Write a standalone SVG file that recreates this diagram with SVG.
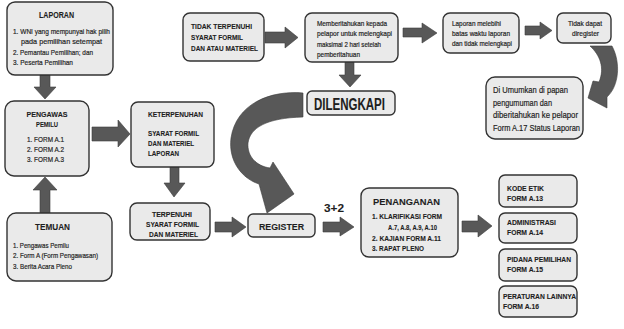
<svg xmlns="http://www.w3.org/2000/svg" width="624" height="329" viewBox="0 0 624 329">
<style>
.bx{fill:#eaeaea;stroke:#333;stroke-width:1.4}
.ar{fill:#585858;stroke:#3c3c3c;stroke-width:0.6}
text{font-family:"Liberation Sans Narrow","Liberation Sans",Arial,sans-serif;fill:#1e1e1e;stroke:#1e1e1e;stroke-width:0.2}
.b{font-weight:bold;stroke-width:0.1}
</style>
<rect width="624" height="329" fill="#fff"/>
<g id="connectors">
<polygon class="ar" points="40,75 50,75 50,87 56,87 45,99 34,87 40,87"/>
<polygon class="ar" points="45,177 57,190 50,190 50,213 40,213 40,190 33,190"/>
<polygon class="ar" points="92,127 118,127 118,120 130,134 118,147 118,141 92,141"/>
<polygon class="ar" points="170,167 179,167 179,183 185,183 174,197 164,183 170,183"/>
<polygon class="ar" points="215,222 232,222 232,217 246,227 232,237 232,232 215,232"/>
<polygon class="ar" points="323,222 340,222 340,217 354,227 340,236 340,232 323,232"/>
<polygon class="ar" points="462,221 478,221 478,215 492,226 478,237 478,232 462,232"/>
<polygon class="ar" points="265,32 285,32 285,27 298,37.5 285,48 285,43 265,43"/>
<polygon class="ar" points="345,62 354,62 354,75 361,75 350,87 339,75 345,75"/>
<polygon class="ar" points="403,28 422,28 422,23 437,33 422,43 422,37 403,37"/>
<polygon class="ar" points="525,26 540,26 540,22 552,30.5 540,39 540,35 525,35"/>
<path class="ar" d="M303,93 C270,90 236,104 231,138 C228,162 243,179 259,184 L267,213 L294,194 L273,162 L270,168 C256,166 247,156 248,143 C250,128 266,118 303,117 Z"/>
<path class="ar" d="M590,46 C600,55 605,68 599,82 L593,81 L588,98 L607,108 L607,97 C619,86 621,63 612,46 Z"/>
</g>
<g id="laporan">
<rect class="bx" x="7" y="2" width="106" height="73" rx="8"/>
<text class="b" x="39" y="17.5" font-size="8.5" textLength="35" lengthAdjust="spacingAndGlyphs">LAPORAN</text>
<text x="13" y="34" font-size="8" textLength="97" lengthAdjust="spacingAndGlyphs">1. WNI yang mempunyai hak pilih</text>
<text x="21" y="44" font-size="8" textLength="81" lengthAdjust="spacingAndGlyphs">pada pemilihan setempat</text>
<text x="13" y="55" font-size="8" textLength="80" lengthAdjust="spacingAndGlyphs">2. Pemantau Pemilihan; dan</text>
<text x="13" y="65" font-size="8" textLength="60" lengthAdjust="spacingAndGlyphs">3. Peserta Pemilihan</text>
</g>
<g id="pengawas">
<rect class="bx" x="5" y="101" width="84" height="75" rx="9"/>
<text class="b" x="26.5" y="117" font-size="8" textLength="41" lengthAdjust="spacingAndGlyphs">PENGAWAS</text>
<text class="b" x="36" y="127" font-size="8" textLength="22" lengthAdjust="spacingAndGlyphs">PEMILU</text>
<text x="27" y="142" font-size="8" textLength="37" lengthAdjust="spacingAndGlyphs">1. FORM A.1</text>
<text x="27" y="152" font-size="8" textLength="37" lengthAdjust="spacingAndGlyphs">2. FORM A.2</text>
<text x="27" y="162" font-size="8" textLength="37" lengthAdjust="spacingAndGlyphs">3. FORM A.3</text>
</g>
<g id="temuan">
<rect class="bx" x="7" y="213" width="105" height="68" rx="9"/>
<text class="b" x="35" y="230" font-size="9.5" textLength="35" lengthAdjust="spacingAndGlyphs">TEMUAN</text>
<text x="13" y="248" font-size="8" textLength="56" lengthAdjust="spacingAndGlyphs">1. Pengawas Pemilu</text>
<text x="13" y="258" font-size="8" textLength="85" lengthAdjust="spacingAndGlyphs">2. Form A (Form Pengawasan)</text>
<text x="13" y="269" font-size="8" textLength="59" lengthAdjust="spacingAndGlyphs">3. Berita Acara Pleno</text>
</g>
<g id="keterpenuhan">
<rect class="bx" x="131" y="102" width="83" height="65" rx="7"/>
<text class="b" x="148" y="117" font-size="7" textLength="55" lengthAdjust="spacingAndGlyphs">KETERPENUHAN</text>
<text class="b" x="148" y="136" font-size="7" textLength="51" lengthAdjust="spacingAndGlyphs">SYARAT FORMIL</text>
<text class="b" x="148" y="146" font-size="7" textLength="46" lengthAdjust="spacingAndGlyphs">DAN MATERIEL</text>
<text class="b" x="148" y="155.5" font-size="7" textLength="31" lengthAdjust="spacingAndGlyphs">LAPORAN</text>
</g>
<g id="terpenuhi">
<rect class="bx" x="130" y="203" width="80" height="37" rx="7"/>
<text class="b" x="152" y="216.5" font-size="7" textLength="40" lengthAdjust="spacingAndGlyphs">TERPENUHI</text>
<text class="b" x="146" y="226.5" font-size="7" textLength="53" lengthAdjust="spacingAndGlyphs">SYARAT FORMIL</text>
<text class="b" x="149" y="236.5" font-size="7" textLength="49" lengthAdjust="spacingAndGlyphs">DAN MATERIEL</text>
</g>
<g id="register">
<rect class="bx" x="248" y="214" width="67" height="23" rx="5"/>
<text class="b" x="259" y="230" font-size="9.5" textLength="45" lengthAdjust="spacingAndGlyphs">REGISTER</text>
</g>
<g id="label-3plus2">
<text class="b" x="324" y="212" font-size="10.5" textLength="20" lengthAdjust="spacingAndGlyphs">3+2</text>
</g>
<g id="penanganan">
<rect class="bx" x="361" y="188" width="97" height="69" rx="8"/>
<text class="b" x="373" y="205" font-size="9.5" textLength="67" lengthAdjust="spacingAndGlyphs">PENANGANAN</text>
<text class="b" x="372" y="219" font-size="7.5" textLength="70" lengthAdjust="spacingAndGlyphs">1. KLARIFIKASI FORM</text>
<text class="b" x="388" y="230" font-size="7.5" textLength="49" lengthAdjust="spacingAndGlyphs">A.7, A.8, A.9, A.10</text>
<text class="b" x="372" y="241" font-size="7.5" textLength="69" lengthAdjust="spacingAndGlyphs">2. KAJIAN FORM A.11</text>
<text class="b" x="372" y="251" font-size="7.5" textLength="52" lengthAdjust="spacingAndGlyphs">3. RAPAT PLENO</text>
</g>
<g id="kode-etik">
<rect class="bx" x="499" y="175" width="78" height="32" rx="6"/>
<text class="b" x="507" y="191" font-size="7" textLength="37" lengthAdjust="spacingAndGlyphs">KODE ETIK</text>
<text class="b" x="507" y="201" font-size="7" textLength="36" lengthAdjust="spacingAndGlyphs">FORM A.13</text>
</g>
<g id="administrasi">
<rect class="bx" x="499" y="213" width="78" height="30" rx="6"/>
<text class="b" x="507" y="225" font-size="7" textLength="49" lengthAdjust="spacingAndGlyphs">ADMINISTRASI</text>
<text class="b" x="507" y="235" font-size="7" textLength="36" lengthAdjust="spacingAndGlyphs">FORM A.14</text>
</g>
<g id="pidana">
<rect class="bx" x="499" y="249" width="78" height="32" rx="6"/>
<text class="b" x="507" y="262" font-size="7" textLength="64" lengthAdjust="spacingAndGlyphs">PIDANA PEMILIHAN</text>
<text class="b" x="507" y="272" font-size="7" textLength="36" lengthAdjust="spacingAndGlyphs">FORM A.15</text>
</g>
<g id="peraturan">
<rect class="bx" x="499" y="286" width="78" height="31" rx="6"/>
<text class="b" x="503" y="299" font-size="7" textLength="73" lengthAdjust="spacingAndGlyphs">PERATURAN LAINNYA</text>
<text class="b" x="503" y="309" font-size="7" textLength="36" lengthAdjust="spacingAndGlyphs">FORM A.16</text>
</g>
<g id="tidak-terpenuhi">
<rect class="bx" x="183" y="13" width="81" height="48" rx="7"/>
<text class="b" x="191" y="29" font-size="7.5" textLength="61" lengthAdjust="spacingAndGlyphs">TIDAK TERPENUHI</text>
<text class="b" x="191" y="40" font-size="7.5" textLength="52" lengthAdjust="spacingAndGlyphs">SYARAT FORMIL</text>
<text class="b" x="191" y="51" font-size="7.5" textLength="67" lengthAdjust="spacingAndGlyphs">DAN ATAU MATERIEL</text>
</g>
<g id="memberitahukan">
<rect class="bx" x="305" y="13" width="93" height="49" rx="7"/>
<text x="317" y="26" font-size="7.5" textLength="70" lengthAdjust="spacingAndGlyphs">Memberitahukan kepada</text>
<text x="317" y="36" font-size="7.5" textLength="75" lengthAdjust="spacingAndGlyphs">pelapor untuk melengkapi</text>
<text x="317" y="46.5" font-size="7.5" textLength="64" lengthAdjust="spacingAndGlyphs">maksimal 2 hari setelah</text>
<text x="317" y="57" font-size="7.5" textLength="43" lengthAdjust="spacingAndGlyphs">pemberitahuan</text>
</g>
<g id="dilengkapi">
<rect class="bx" x="307" y="91" width="88" height="24" rx="5"/>
<text class="b" x="314" y="110" font-size="16" textLength="71" lengthAdjust="spacingAndGlyphs">DILENGKAPI</text>
</g>
<g id="laporan-melebihi">
<rect class="bx" x="443" y="13" width="76" height="40" rx="7"/>
<text x="452" y="25.5" font-size="7.5" textLength="49" lengthAdjust="spacingAndGlyphs">Laporan melebihi</text>
<text x="452" y="35.5" font-size="7.5" textLength="58" lengthAdjust="spacingAndGlyphs">batas waktu laporan</text>
<text x="452" y="45.5" font-size="7.5" textLength="60" lengthAdjust="spacingAndGlyphs">dan tidak melengkapi</text>
</g>
<g id="tidak-dapat">
<rect class="bx" x="557" y="13" width="54" height="30" rx="6"/>
<text x="568" y="26" font-size="7.5" textLength="34" lengthAdjust="spacingAndGlyphs">Tidak dapat</text>
<text x="572" y="36" font-size="7.5" textLength="27" lengthAdjust="spacingAndGlyphs">diregister</text>
</g>
<g id="diumumkan">
<rect class="bx" x="486" y="77" width="97" height="62" rx="9"/>
<text x="493" y="93" font-size="9.5" textLength="75" lengthAdjust="spacingAndGlyphs">Di Umumkan di papan</text>
<text x="493" y="106" font-size="9.5" textLength="59" lengthAdjust="spacingAndGlyphs">pengumuman dan</text>
<text x="493" y="118" font-size="9.5" textLength="85" lengthAdjust="spacingAndGlyphs">diberitahukan ke pelapor</text>
<text x="493" y="131" font-size="9.5" textLength="87" lengthAdjust="spacingAndGlyphs">Form A.17 Status Laporan</text>
</g>
</svg>
